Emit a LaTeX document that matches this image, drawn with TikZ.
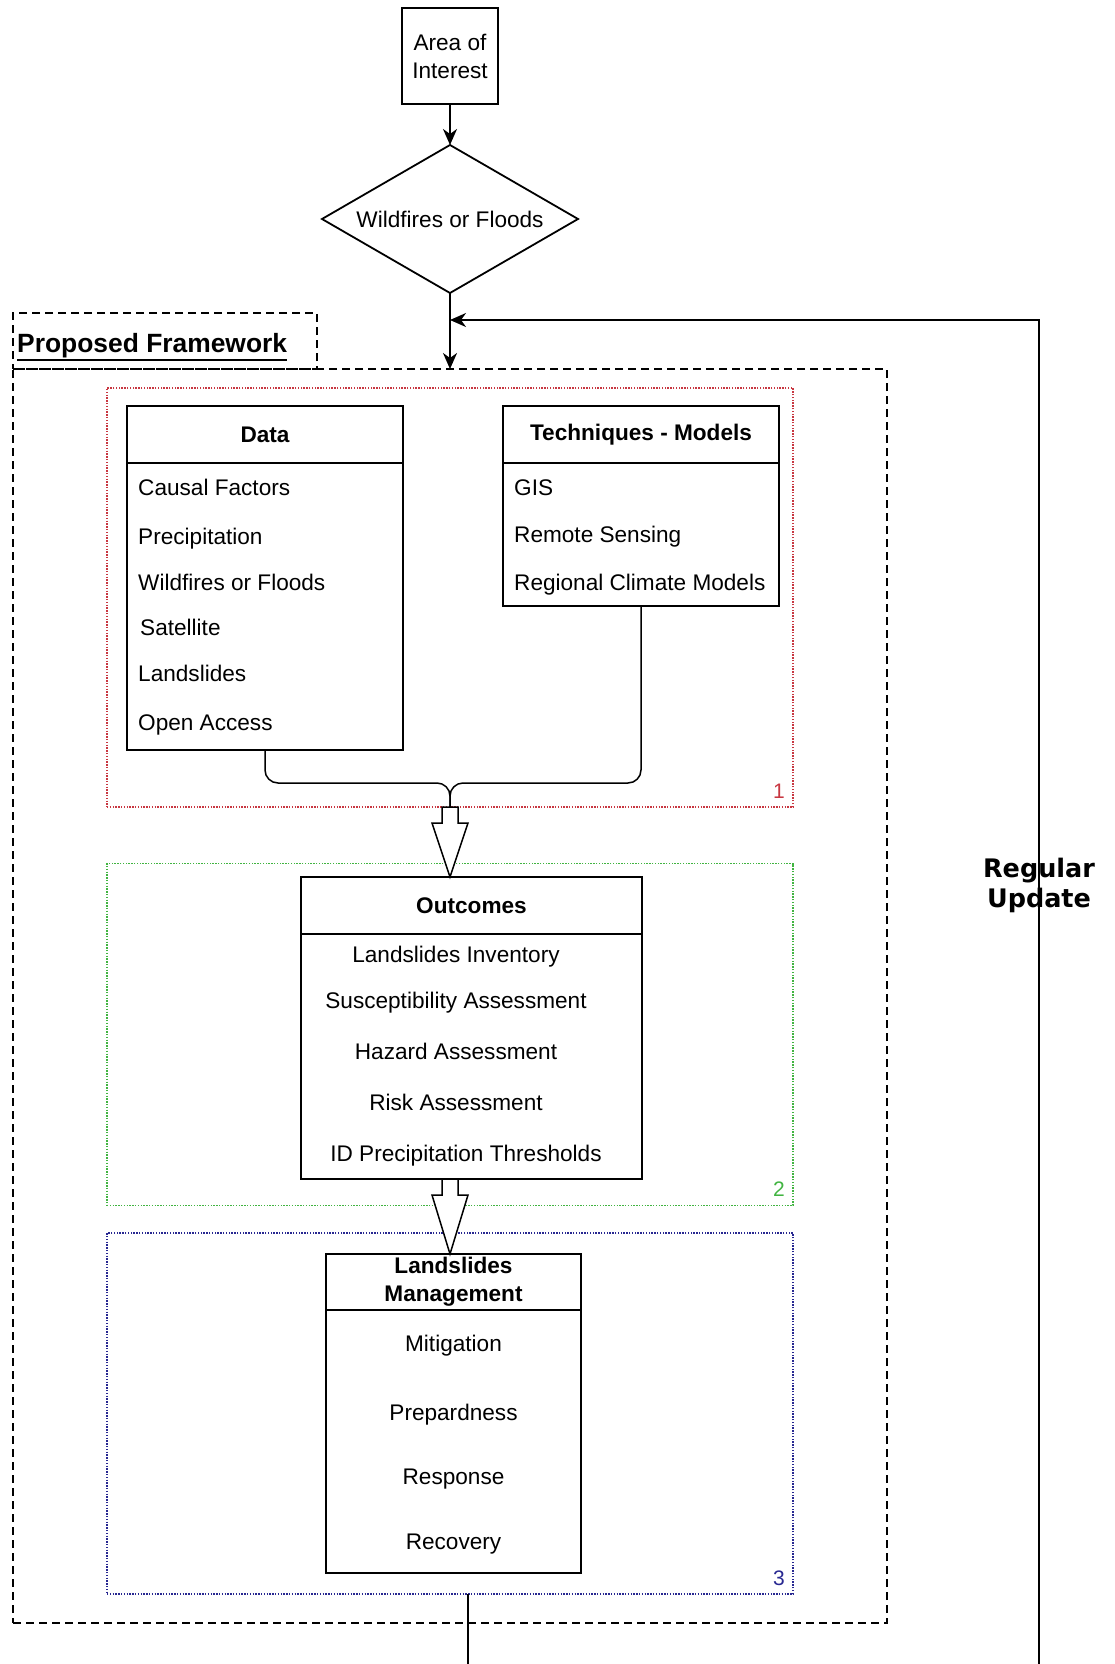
\documentclass[tikz,border=0pt]{standalone}
\usepackage{fontspec}
\setmainfont{Liberation Sans}
\newfontfamily\updfont{DejaVu Sans}
\usetikzlibrary{shapes.geometric,arrows.meta,positioning,calc}
\definecolor{grpred}{RGB}{200,55,65}
\definecolor{grpgreen}{RGB}{65,180,65}
\definecolor{grpblue}{RGB}{40,40,145}
\newcommand{\bodyfont}{\fontsize{22.6}{28}\selectfont}
\newcommand{\blockarrow}[2]{%
  \draw[line width=1.5pt, fill=white] ($#1+(-8,0)$) -- ($#1+(8,0)$) -- ($#1+(8,16)$)
    -- ($#1+(18,16)$) -- #2 -- ($#1+(-18,16)$) -- ($#1+(-8,16)$) -- cycle;}

\begin{document}
\begin{tikzpicture}[x=1pt, y=-1pt,
    every node/.style={font=\bodyfont},
    box/.style={draw, line width=1.8pt, inner sep=0pt, outer sep=0pt, align=center},
    hdr/.style={box, font=\bodyfont\bfseries},
    item/.style={anchor=base west, inner sep=0pt},
    citem/.style={anchor=base, inner sep=0pt},
    grp/.style={draw, dash pattern=on 1.4pt off 1.4pt, line width=1.4pt, inner sep=0pt, outer sep=0pt, minimum width=686},
    frame/.style={draw, dash pattern=on 8pt off 5pt, line width=1.8pt, inner sep=0pt, outer sep=0pt},
    conn/.style={line width=1.8pt},
    flow/.style={-{Stealth[length=16pt,width=14pt,inset=5pt]}},
    num/.style={anchor=base east, inner sep=0pt, font=\fontsize{21}{24}\selectfont}]
  \useasboundingbox (0,0) rectangle (1115,1664);

  % top of the flow
  \node[box, minimum width=96, minimum height=96] (aoi) at (450,56) {Area of\\Interest};
  \node[draw, shape=diamond, line width=1.8pt, inner sep=0pt, outer sep=0pt, aspect=1.73,
        minimum width=256, minimum height=148] (haz) at (450,219) {Wildfires or Floods};

  % framework frame
  \node[frame, minimum width=874, minimum height=1254] (fw) at (450,996) {};
  \node[frame, minimum width=304, minimum height=56] (fwtab) at (165,341) {};
  \node[anchor=base west, inner sep=0pt, font=\fontsize{26.4}{30}\selectfont\bfseries] (fwlbl) at (17,352) {Proposed Framework};
  \draw[line width=2pt] ([yshift=-8pt]fwlbl.base west) -- ([yshift=-8pt]fwlbl.base east);

  % groups
  \node[grp, draw=grpred, minimum height=419] (grpR) at (450,597.5) {};
  \node[grp, draw=grpgreen, minimum height=342] (grpG) at (450,1034.5) {};
  \node[grp, draw=grpblue, minimum height=361] (grpB) at (450,1413.5) {};
  \node[num, text=grpred] (n1) at ($(grpR.south east)+(-8,-9)$) {1};
  \node[num, text=grpgreen] (n2) at ($(grpG.south east)+(-8,-9)$) {2};
  \node[num, text=grpblue] (n3) at ($(grpB.south east)+(-8,-9)$) {3};

  % data
  \node[hdr, minimum width=276, minimum height=57] (dataH) at (265,434.5) {Data};
  \node[box, minimum width=276, minimum height=287, below=0pt of dataH] (dataB) {};
  \node[item] (d1) at (138,495) {Causal Factors};
  \node[item] (d2) at (138,544) {Precipitation};
  \node[item] (d3) at (138,590) {Wildfires or Floods};
  \node[item] (d4) at (140,635) {Satellite};
  \node[item] (d5) at (138,681) {Landslides};
  \node[item] (d6) at (138,730) {Open Access};

  % techniques
  \node[hdr, minimum width=276, minimum height=57] (techH) at (641,434.5) {Techniques - Models};
  \node[box, minimum width=276, minimum height=143, below=0pt of techH] (techB) {};
  \node[item] (t1) at (514,495) {GIS};
  \node[item] (t2) at (514,542) {Remote Sensing};
  \node[item] (t3) at (514,590) {Regional Climate Models};

  \coordinate (jn) at ($(grpR.south)+(0,-24)$);
  \draw[line width=1.5pt, rounded corners=13pt] (dataB.south) |- (jn) -- (grpR.south);
  \draw[line width=1.5pt, rounded corners=13pt] (techB.south) |- (jn) -- (grpR.south);

  % outcomes
  \node[hdr, minimum width=341, minimum height=57] (outH) at (471.5,905.5) {Outcomes};
  \node[box, minimum width=341, minimum height=245, below=0pt of outH] (outB) {};
  \node[citem] (o1) at (456,962) {Landslides Inventory};
  \node[citem] (o2) at (456,1008) {Susceptibility Assessment};
  \node[citem] (o3) at (456,1059) {Hazard Assessment};
  \node[citem] (o4) at (456,1110) {Risk Assessment};
  \node[citem] (o5) at (466,1161) {ID Precipitation Thresholds};

  % management
  \node[hdr, minimum width=255, minimum height=56] (lmH) at (453.5,1282) {Landslides\\Management};
  \node[box, minimum width=255, minimum height=263, below=0pt of lmH] (lmB) {};
  \node[citem] (m1) at (453.5,1351) {Mitigation};
  \node[citem] (m2) at (453.5,1420) {Prepardness};
  \node[citem] (m3) at (453.5,1484) {Response};
  \node[citem] (m4) at (453.5,1549) {Recovery};

  \blockarrow{(grpR.south)}{(grpR.south |- outH.north)}
  \blockarrow{(grpR.south |- outB.south)}{(grpR.south |- lmH.north)}

  % arrows
  \draw[conn, flow] (aoi) -- (haz);
  \draw[conn, flow] (haz) -- (fw.north);

  % regular update loop
  \coordinate (outL) at (468,1664);
  \coordinate (outR) at (1039,1664);
  \coordinate (fbIn) at (450,320);
  \draw[conn] (grpB.south -| outL) -- (outL);
  \draw[conn, flow] (outR) |- (fbIn);
  \node[font=\updfont\bfseries\fontsize{25.5}{30}\selectfont, align=center, inner sep=0pt] (upd) at (1039,885) {Regular\\Update};
\end{tikzpicture}
\end{document}
